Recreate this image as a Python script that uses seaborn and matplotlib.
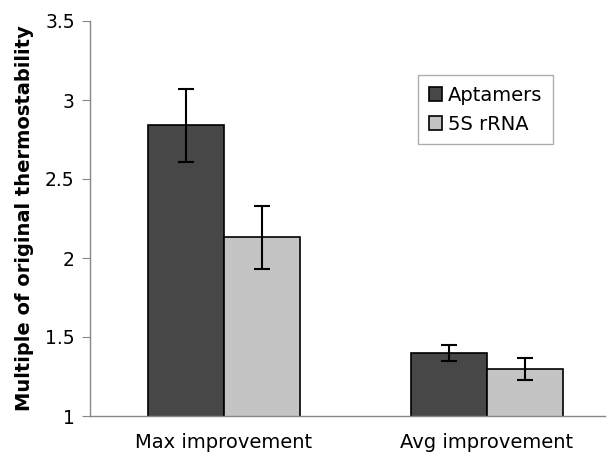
import pandas as pd
import seaborn as sns
import matplotlib.pyplot as plt

# data
categories = ["Max improvement", "Avg improvement"]
groups = ["Aptamers", "5S rRNA"]
aptamers = [2.84, 1.40]
rrna = [2.13, 1.30]
aptamers_err = [0.23, 0.05]
rrna_err = [0.20, 0.07]

df = pd.DataFrame({
    "category": categories * 2,
    "group": [groups[0]] * 2 + [groups[1]] * 2,
    "value": aptamers + rrna,
    "err": aptamers_err + rrna_err,
})

sns.set_style("white")
plt.rcParams["font.family"] = ["DejaVu Sans"]
plt.rcParams["text.color"] = "black"
plt.rcParams["xtick.color"] = "black"
plt.rcParams["ytick.color"] = "black"
plt.rcParams["axes.labelcolor"] = "black"

fig = plt.figure(figsize=(6.13, 4.57), dpi=100)
ax = fig.add_axes([90 / 613, 41 / 457, 515 / 613, 395 / 457])

sns.barplot(data=df, x="category", y="value", hue="group", order=categories,
            hue_order=groups, palette=["#474747", "#c4c4c4"], width=0.58,
            errorbar=None, edgecolor="black", linewidth=1.2, saturation=1,
            ax=ax)

# error bars on top of each bar
for bars, grp in zip(ax.containers, groups):
    sub = df[df["group"] == grp].set_index("category").loc[categories]
    xs = [b.get_x() + b.get_width() / 2 for b in bars]
    ax.errorbar(xs, sub["value"], yerr=sub["err"], fmt="none", ecolor="black",
                elinewidth=1.5, capsize=6, capthick=1.5)

ax.set_ylim(1, 3.5)
ax.set_yticks([1, 1.5, 2, 2.5, 3, 3.5])
ax.set_yticklabels(["1", "1.5", "2", "2.5", "3", "3.5"])
ax.set_xlim(-0.51, 1.45)
ax.set_xlabel("")
ax.set_ylabel("Multiple of original thermostability", fontsize=14, fontweight="bold",
              labelpad=8)
ax.tick_params(axis="y", left=True, length=6, color="#888888", labelsize=13.5, pad=5)
ax.tick_params(axis="x", bottom=False, labelsize=14, pad=9)

for s in ["top", "right"]:
    ax.spines[s].set_visible(False)
for s in ["left", "bottom"]:
    ax.spines[s].set_color("#888888")
    ax.spines[s].set_linewidth(1)

leg = ax.legend(loc="upper left", bbox_to_anchor=(0.637, 0.863), frameon=True,
                fancybox=False, edgecolor="#999999", fontsize=14,
                handlelength=0.7, handleheight=0.7, handletextpad=0.3,
                borderpad=0.55, labelspacing=0.5, borderaxespad=0)
leg.get_frame().set_linewidth(1)

fig.savefig("out.png", dpi=100)
